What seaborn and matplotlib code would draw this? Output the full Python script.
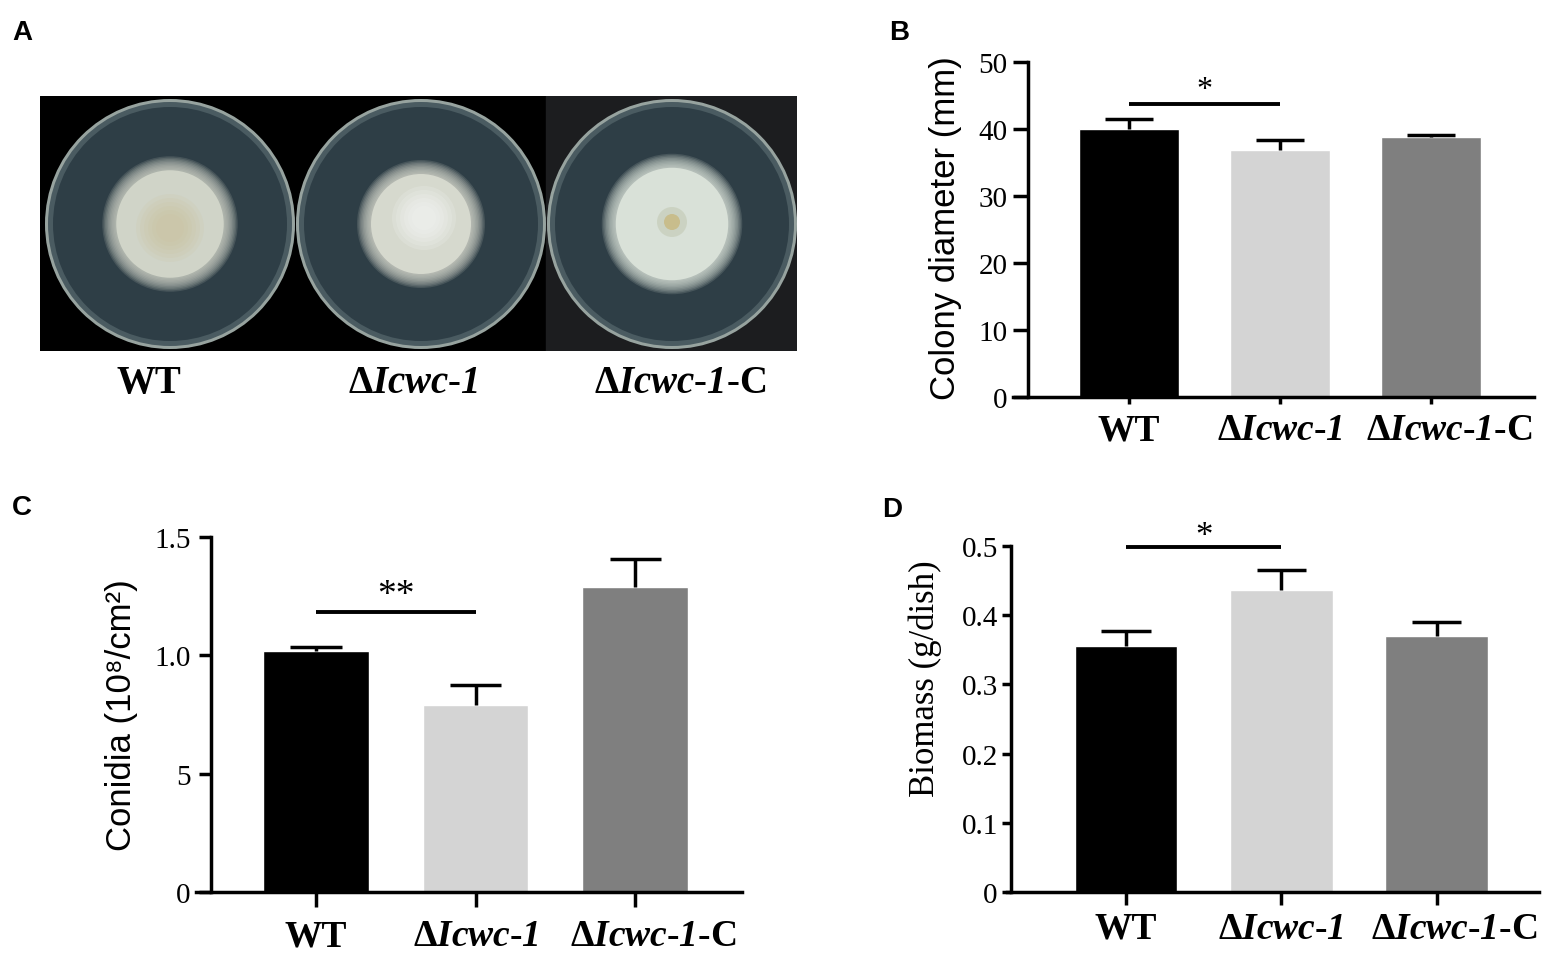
import matplotlib
matplotlib.use("Agg")
import matplotlib.pyplot as plt
import seaborn as sns
import pandas as pd
from matplotlib.patches import Circle, Rectangle
from matplotlib.transforms import ScaledTranslation

# strains and measured values (mean, SD)
strains = ["WT", "ΔIcwc-1", "ΔIcwc-1-C"]
strain_tex = ["WT",
              r"$\Delta\mathsf{Icwc}$-$\mathsf{1}$",
              r"$\Delta\mathsf{Icwc}$-$\mathsf{1}$-C"]
bar_colors = ["#000000", "#d4d4d4", "#7f7f7f"]

diameter_mean = [40.0, 36.9, 38.85]
diameter_err = [1.5, 1.5, 0.3]
conidia_mean = [1.02, 0.79, 1.29]
conidia_err = [0.017, 0.085, 0.116]
biomass_mean = [0.356, 0.436, 0.370]
biomass_err = [0.021, 0.030, 0.020]

# relative colony size in the photographs (fraction of dish radius)
colony_frac = [0.51, 0.48, 0.53]

W, H = 1562, 954

sns.set_style("ticks")
plt.rcParams["font.family"] = ["Liberation Serif", "DejaVu Sans"]
plt.rcParams["mathtext.fontset"] = "custom"
plt.rcParams["mathtext.rm"] = "Liberation Serif:bold"
plt.rcParams["mathtext.it"] = "Liberation Serif:bold:italic"
plt.rcParams["mathtext.sf"] = "Liberation Serif:bold:italic"
plt.rcParams["mathtext.bf"] = "Liberation Serif:bold"
for key in ["text.color", "axes.labelcolor", "xtick.color", "ytick.color", "axes.edgecolor"]:
    plt.rcParams[key] = "black"

fig = plt.figure(figsize=(W / 100, H / 100), dpi=100)


def fx(px):
    return px / W


def fy(px):
    return 1 - px / H


# ---------------- panel A: plates ----------------
ax_a = fig.add_axes([fx(40), fy(352), fx(757), 255 / H])
ax_a.set_xlim(0, 757)
ax_a.set_ylim(255, 0)
ax_a.axis("off")
ax_a.add_patch(Rectangle((0, 0), 506, 255, color="black"))
ax_a.add_patch(Rectangle((506, 0), 251, 255, color="#1c1d1f"))

colony_cols = ["#d0d4c8", "#d6d9ce", "#d9e1d8"]
for i, frac in enumerate(colony_frac):
    cx, cy = 130 + 251 * i, 128
    ax_a.add_patch(Circle((cx, cy), 125, fc="#97a39f", ec="none"))
    ax_a.add_patch(Circle((cx, cy), 122, fc="#4a5b61", ec="none"))
    ax_a.add_patch(Circle((cx, cy), 117, fc="#2e3e46", ec="none"))
    rc = 125 * frac
    for k in range(10):
        ax_a.add_patch(Circle((cx, cy), rc + 4 - 1.4 * k, fc=colony_cols[i],
                              ec="none", alpha=0.15))
    ax_a.add_patch(Circle((cx, cy), rc - 10, fc=colony_cols[i], ec="none"))
    if i == 0:
        for k in range(6):
            ax_a.add_patch(Circle((cx, cy + 4), 34 - 4 * k, fc="#cbbf95", ec="none",
                                  alpha=0.12))
    elif i == 1:
        for k in range(6):
            ax_a.add_patch(Circle((cx + 3, cy - 6), 32 - 4 * k, fc="#f6f8f6", ec="none",
                                  alpha=0.18))
    else:
        ax_a.add_patch(Circle((cx, cy - 2), 15, fc="#c6cdb9", ec="none", alpha=0.7))
        ax_a.add_patch(Circle((cx, cy - 2), 8, fc="#c8bd8c", ec="none"))

for i, lab in enumerate(strain_tex):
    fig.text(fx([149, 413, 680][i]), fy(393), lab, ha="center", va="baseline",
             fontsize=28, fontweight="bold", family="Liberation Serif")


# ---------------- bar panels ----------------
def bar_panel(ax, means, errs, ymax, ticks, ticklabels, sig_y, stars, star_size,
              star_off, xlim, spine_x, ylen, xlen, ypad, xpad):
    df = pd.DataFrame({"strain": strains, "value": means})
    sns.barplot(data=df, x="strain", y="value", hue="strain", palette=bar_colors,
                width=0.66, saturation=1, legend=False, ax=ax)
    xs = list(range(len(means)))
    tops = [m + e for m, e in zip(means, errs)]
    ax.vlines(xs, means, tops, color="black", lw=2.5, zorder=3)
    ax.hlines(tops, [x - 0.16 for x in xs], [x + 0.16 for x in xs], color="black",
              lw=2.5, zorder=3)
    ax.plot([0, 1], [sig_y, sig_y], color="black", lw=2.8, clip_on=False,
            solid_capstyle="butt")
    ax.annotate(stars, xy=(0.5, sig_y), xytext=(0, star_off), textcoords="offset points",
                ha="center", va="baseline", fontsize=star_size, family="Liberation Serif",
                annotation_clip=False)
    ax.set_xlim(*xlim)
    ax.set_ylim(0, ymax)
    sns.despine(ax=ax)
    ax.spines["left"].set_position(("data", spine_x))
    for s in ["left", "bottom"]:
        ax.spines[s].set_linewidth(2.5)
    ax.set_yticks(ticks)
    ax.set_yticklabels(ticklabels, family="Liberation Serif", fontsize=21)
    ax.set_xticks(xs)
    ax.set_xticklabels(strain_tex, family="Liberation Serif", fontsize=27,
                       fontweight="bold")
    ax.tick_params(axis="y", length=ylen, width=2.5, pad=ypad)
    ax.tick_params(axis="x", length=xlen, width=2.5, pad=xpad)
    ax.set_xlabel("")
    ax.set_ylabel("")
    # the complemented-strain label sits a little to the right in the original
    last = ax.get_xticklabels()[-1]
    last.set_transform(last.get_transform() + ScaledTranslation(0.18, 0, fig.dpi_scale_trans))


ax_b = fig.add_axes([fx(1013), fy(398), fx(521), 335 / H])
bar_panel(ax_b, diameter_mean, diameter_err, 50, [0, 10, 20, 30, 40, 50],
          ["0", "10", "20", "30", "40", "50"], 43.7, "*", 23, 5,
          (-0.768, 2.68), -0.669, 10.8, 5, 4, 6)

ax_c = fig.add_axes([fx(196), fy(893), fx(546), 355 / H])
bar_panel(ax_c, conidia_mean, conidia_err, 1.5, [0, 0.5, 1.0, 1.5],
          ["0", "5", "1.0", "1.5"], 1.183, "**", 27, 6,
          (-0.752, 2.67), -0.658, 8.6, 10.8, 6, 8)

ax_d = fig.add_axes([fx(1007), fy(893), fx(532), 346 / H])
bar_panel(ax_d, biomass_mean, biomass_err, 0.5, [0, 0.1, 0.2, 0.3, 0.4, 0.5],
          ["0", "0.1", "0.2", "0.3", "0.4", "0.5"], 0.499, "*", 25, 1,
          (-0.768, 2.66), -0.742, 6.5, 9.4, 3, 4)

fig.text(fx(945), fy(228), "Colony diameter (mm)", rotation=90, ha="center",
         va="center", fontsize=25, family=["Liberation Sans", "DejaVu Sans"])
fig.text(fx(122), fy(715), "Conidia (10⁸/cm²)", rotation=90, ha="center",
         va="center", fontsize=25, family=["Liberation Sans", "DejaVu Sans"])
fig.text(fx(925), fy(679), "Biomass (g/dish)", rotation=90, ha="center",
         va="center", fontsize=25, family="Liberation Serif")

for letter, (px, py) in zip("ABCD", [(12, 20), (889, 20), (12, 495), (882, 497)]):
    fig.text(fx(px), fy(py), letter, ha="left", va="top", fontsize=20,
             fontweight="bold", family="Liberation Sans")

fig.savefig("out.png", dpi=100)
